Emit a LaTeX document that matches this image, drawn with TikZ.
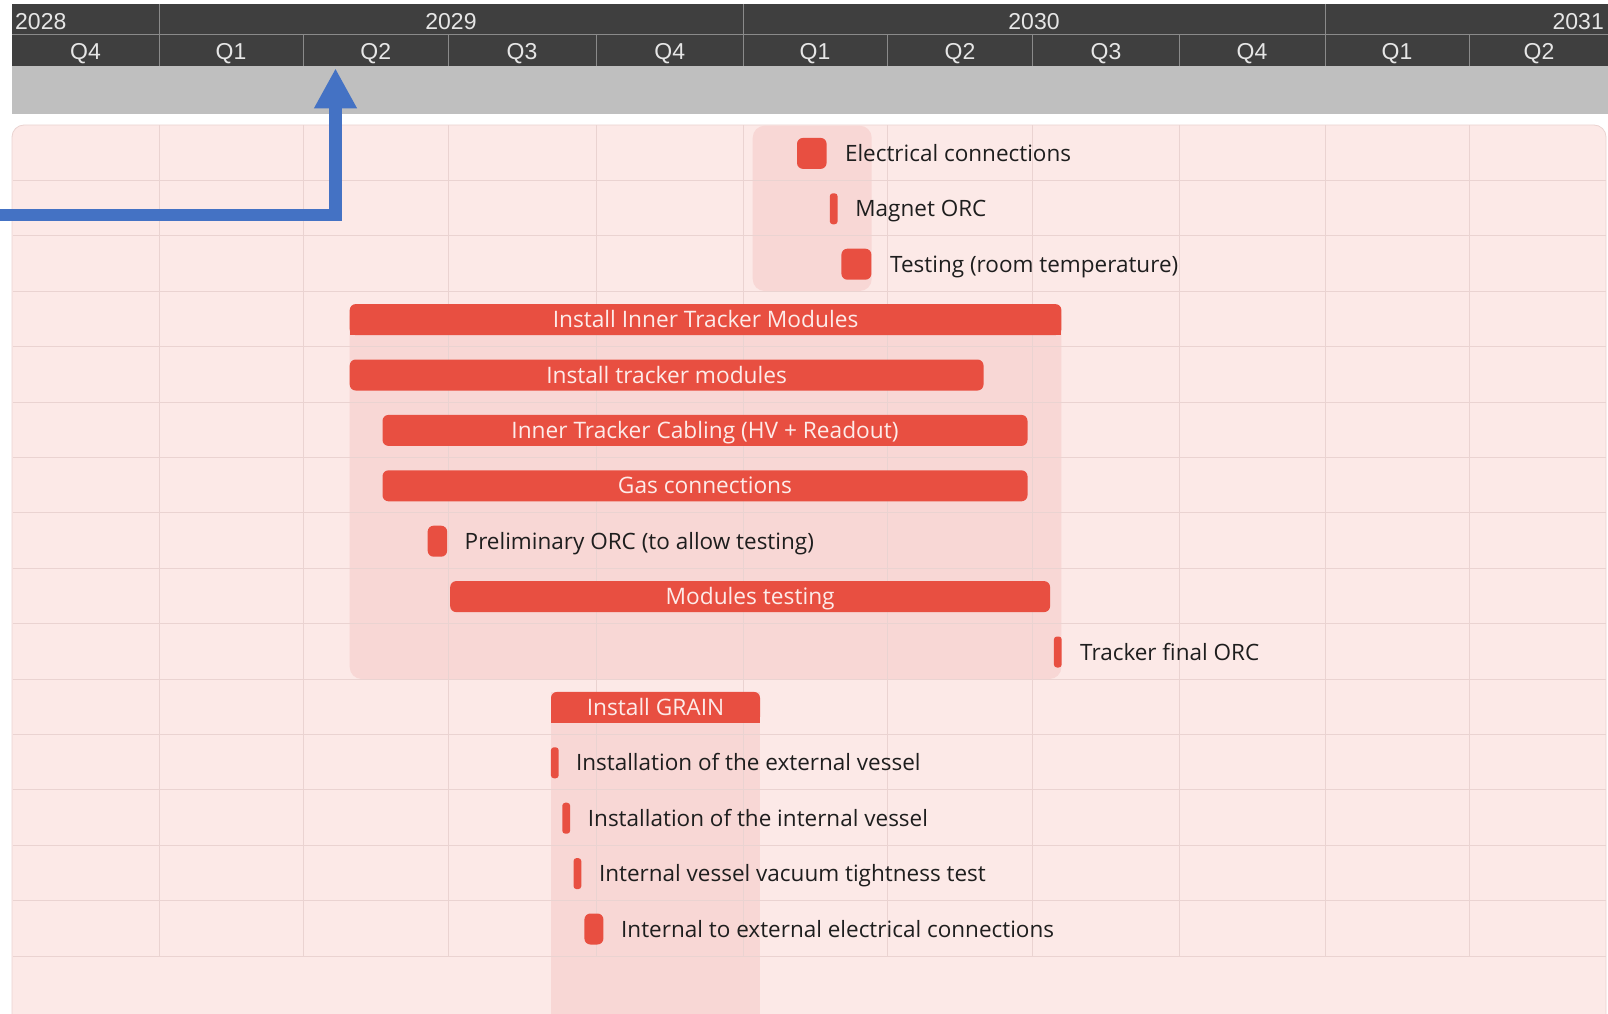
\documentclass[tikz,border=0pt]{standalone}
\usepackage{fontspec}
\setmainfont{Open Sans}
\newfontfamily\hdrfont{Liberation Sans}
\usetikzlibrary{arrows.meta}
\definecolor{hdrdark}{HTML}{3F3F3F}
\definecolor{hdrline}{HTML}{8A8A8A}
\definecolor{hdrtxt}{HTML}{E6E6E6}
\definecolor{bandgray}{HTML}{BFBFBF}
\definecolor{basepink}{HTML}{FCE9E7}
\definecolor{grpfill}{HTML}{F8D7D5}
\definecolor{gridcol}{HTML}{EAD3D1}
\definecolor{barred}{HTML}{E84F41}
\definecolor{bartxt}{HTML}{FDEBE9}
\definecolor{lbltxt}{HTML}{1E1E1E}
\definecolor{arrblue}{HTML}{4472C4}
\tikzset{
  hdrtext/.style={font=\hdrfont\fontsize{23}{23}\selectfont, text=hdrtxt, inner sep=0pt, anchor=base},
  hdrrule/.style={draw=hdrline, line width=1pt},
  gridrule/.style={draw=gridcol, line width=1pt},
  grpbox/.style={fill=grpfill},
  bar/.style={fill=barred, rounded corners=6pt, minimum height=31pt, inner sep=0pt,
    text=bartxt, font=\fontsize{22.7}{22.7}\selectfont, text height=16.2pt, text depth=0pt},
  sumfill/.style={fill=barred},
  mthin/.style={fill=barred, rounded corners=3pt, minimum width=7.8pt, minimum height=31pt, inner sep=0pt},
  mbox/.style={fill=barred, rounded corners=6pt, minimum height=31pt, inner sep=0pt},
  lbl/.style={anchor=west, inner sep=0pt, text=lbltxt, font=\fontsize{22.5}{22.5}\selectfont, text height=16.1pt, text depth=0pt},
  blueconn/.style={draw=arrblue, line width=12.5pt, -{Triangle[length=40pt,width=40pt]}}
}
\begin{document}
\begin{tikzpicture}[x=1pt,y=-1pt]
\useasboundingbox (0,0) rectangle (1608,1014);
% header
\fill[hdrdark] (12,4) rectangle (1608,66);
\fill[bandgray] (12,66) rectangle (1608,114);
\draw[hdrrule] (12,35) -- (1608,35);
\foreach \x in {159,743.5,1325} \draw[hdrrule] (\x,4) -- (\x,35);
\foreach \x in {159,303.5,448,596,743.5,887,1032.7,1179,1325,1469.5} \draw[hdrrule] (\x,35) -- (\x,66);
\node[hdrtext, anchor=base west] (y28) at (15,30) {2028};
\node[hdrtext] (y29) at (451,30) {2029};
\node[hdrtext] (y30) at (1034,30) {2030};
\node[hdrtext, anchor=base east] (y31) at (1604,30) {2031};
\foreach \x/\q [count=\i] in {85.5/Q4,231/Q1,375.7/Q2,522/Q3,669.7/Q4,815/Q1,960/Q2,1106/Q3,1252/Q4,1397/Q1,1539/Q2}
  \node[hdrtext] (q\i) at (\x,59.5) {\q};
% content background
\fill[basepink, draw=gridcol, line width=0.8pt, rounded corners=12pt] (12,125) rectangle (1606,1060);
% group shades
\fill[grpbox, rounded corners=12pt] (752.7,125.7) rectangle (871.7,291);
\fill[grpbox, rounded corners=12pt] (349.7,304.6) rectangle (1061.4,679);
\fill[grpbox] (551,692.3) rectangle (760,1014);
% grid
\foreach \i in {1,...,15} \draw[gridrule] (12.5,{125.1+55.4*\i}) -- (1606,{125.1+55.4*\i});
\foreach \x in {159,303.5,448,596,743.5,887,1032.7,1179,1325,1469.5} \draw[gridrule] (\x,125.5) -- (\x,955.8);
% summary bars
\fill[sumfill] (349.7,{153.4+55.4*3}) rectangle (1061.4,{153.4+55.4*3+15.5});
\node[bar, minimum width=711.7pt] (sumIT) at (705.55,{153.4+55.4*3}) {Install Inner Tracker Modules};
\fill[sumfill] (551,{153.4+55.4*10}) rectangle (760,{153.4+55.4*10+15.5});
\node[bar, minimum width=209pt] (sumGR) at (655.5,{153.4+55.4*10}) {Install GRAIN};
% task bars
\node[bar, minimum width=633.8pt] (b4) at (666.6,{153.4+55.4*4}) {Install tracker modules};
\node[bar, minimum width=645pt] (b5) at (705,{153.4+55.4*5}) {Inner Tracker Cabling (HV + Readout)};
\node[bar, minimum width=645pt] (b6) at (705,{153.4+55.4*6}) {Gas connections};
\node[bar, minimum width=599.9pt] (b8) at (750.15,{153.4+55.4*8}) {Modules testing};
% milestones / short tasks
\node[mbox, minimum width=29.6pt] (m0) at (811.8,{153.4}) {};
\node[lbl] (l0) at (844.8,{153.4}) {Electrical connections};
\node[mthin] (m1) at (833.7,{153.4+55.4*1}) {};
\node[lbl] (l1) at (855.2,{153.4+55.4*1}) {Magnet ORC};
\node[mbox, minimum width=30pt] (m2) at (856.4,{153.4+55.4*2}) {};
\node[lbl] (l2) at (890,{153.4+55.4*2}) {Testing (room temperature)};
\node[mbox, minimum width=19.5pt] (m7) at (437.4,{153.4+55.4*7}) {};
\node[lbl] (l7) at (464.5,{153.4+55.4*7}) {Preliminary ORC (to allow testing)};
\node[mthin] (m9) at (1057.8,{153.4+55.4*9}) {};
\node[lbl] (l9) at (1080,{153.4+55.4*9}) {Tracker final ORC};
\node[mthin] (m11) at (554.8,{153.4+55.4*11}) {};
\node[lbl] (l11) at (575.8,{153.4+55.4*11}) {Installation of the external vessel};
\node[mthin] (m12) at (566.2,{153.4+55.4*12}) {};
\node[lbl] (l12) at (587.7,{153.4+55.4*12}) {Installation of the internal vessel};
\node[mthin] (m13) at (577.4,{153.4+55.4*13}) {};
\node[lbl] (l13) at (598.8,{153.4+55.4*13}) {Internal vessel vacuum tightness test};
\node[mbox, minimum width=19pt] (m14) at (593.9,{153.4+55.4*14}) {};
\node[lbl] (l14) at (621,{153.4+55.4*14}) {Internal to external electrical connections};
% blue arrow
\coordinate (arrS) at (0,215);
\coordinate (arrE) at (335.5,68.3);
\draw[blueconn] (arrS) -| (arrE);
\end{tikzpicture}
\end{document}
